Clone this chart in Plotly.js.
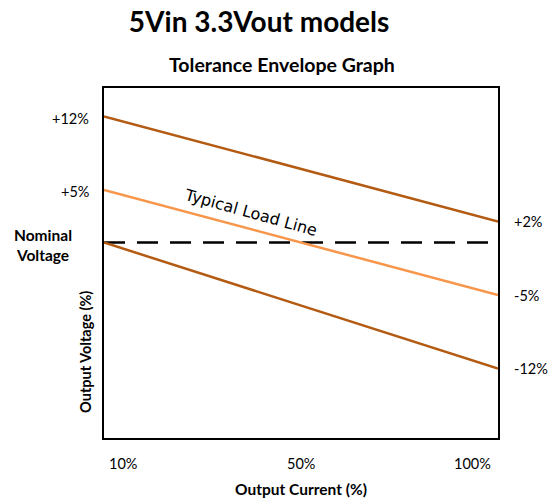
<!DOCTYPE html>
<html>
<head>
<meta charset="utf-8">
<script src="https://cdn.plot.ly/plotly-3.0.1.min.js"></script>
<style>html,body{margin:0;padding:0;background:#fff;}#chart{width:556px;height:499px;}</style>
</head>
<body>
<div id="chart"></div>
<script>
// ---- data ----
const currentLabels = ['10%', '50%', '100%'];
const lineX = ['10%', '100%'];
const upperLimit = [12, 2];
const typicalLoad = [5, -5];
const lowerLimit = [0, -12];
const nominal = [0, 0];
const chartTitle = '5Vin 3.3Vout models';
const chartSubtitle = 'Tolerance Envelope Graph';
const xTitle = 'Output Current (%)';
const yTitle = 'Output Voltage (%)';
const nominalLabel = 'Nominal<br>Voltage';
const loadLineLabel = 'Typical Load Line';

const DARK = '#B35B13';
const LIGHT = '#F7964A';
const FONT = 'Lato, "Open Sans", sans-serif';

function pct(v) { return (v > 0 ? '+' : '') + v + '%'; }

const traces = [
  { x: lineX, y: nominal, mode: 'lines', line: { color: '#000', width: 2.5, dash: '21px,12px' } },
  { x: lineX, y: upperLimit, mode: 'lines', line: { color: DARK, width: 2.5 } },
  { x: lineX, y: typicalLoad, mode: 'lines', line: { color: LIGHT, width: 2.5 } },
  { x: lineX, y: lowerLimit, mode: 'lines', line: { color: DARK, width: 2.5 } }
];

const ann = [];
[upperLimit[0], typicalLoad[0]].forEach(v => ann.push({
  xref: 'paper', yref: 'y', x: 0, y: v, xanchor: 'right', yanchor: 'middle', xshift: -13, yshift: -2,
  text: pct(v), showarrow: false, font: { family: FONT, size: 14.5, color: '#000' }
}));
ann.push({
  xref: 'paper', yref: 'y', x: -0.155, y: lowerLimit[0], xanchor: 'center', yanchor: 'middle', yshift: -2,
  text: '<b>' + nominalLabel + '</b>', showarrow: false, font: { family: FONT, size: 15.5, color: '#000' }
});
[upperLimit[1], typicalLoad[1], lowerLimit[1]].forEach(v => ann.push({
  xref: 'paper', yref: 'y', x: 1, y: v, xanchor: 'left', yanchor: 'middle', xshift: 14,
  text: pct(v), showarrow: false, font: { family: FONT, size: 14.5, color: '#000' }
}));
currentLabels.forEach((t, i) => ann.push({
  xref: 'x', yref: 'paper', x: i, y: 0, yanchor: 'middle', yshift: -25,
  xanchor: i === 0 ? 'left' : (i === currentLabels.length - 1 ? 'right' : 'center'),
  xshift: i === 0 ? 3 : (i === currentLabels.length - 1 ? -5 : 0),
  text: t, showarrow: false, font: { family: FONT, size: 14.5, color: '#000' }
}));
ann.push({
  xref: 'x', yref: 'y', x: 0.746, y: typicalLoad[0] + (typicalLoad[1] - typicalLoad[0]) * 0.373,
  xanchor: 'center', yanchor: 'middle', yshift: 17, textangle: 15.5,
  text: loadLineLabel, showarrow: false, font: { family: 'DejaVu Sans', size: 16, color: '#000' }
});
ann.push({
  xref: 'paper', yref: 'paper', x: 0.5, y: 0, xanchor: 'center', yanchor: 'middle', yshift: -51,
  text: '<b>' + xTitle + '</b>', showarrow: false, font: { family: FONT, size: 15.5, color: '#000' }
});
ann.push({
  xref: 'paper', yref: 'paper', x: -0.0457, y: 0.246, xanchor: 'center', yanchor: 'middle', textangle: -90,
  text: '<b>' + yTitle + '</b>', showarrow: false, font: { family: FONT, size: 14.5, color: '#000' }
});
ann.push({
  xref: 'paper', yref: 'paper', x: 0.452, y: 1.066, xanchor: 'center', yanchor: 'middle',
  text: '<b>' + chartSubtitle + '</b>', showarrow: false, font: { family: FONT, size: 19.5, color: '#000' }
});

const layout = {
  width: 556, height: 499,
  margin: { l: 104, r: 58, t: 88, b: 61 },
  paper_bgcolor: '#fff', plot_bgcolor: '#fff',
  showlegend: false,
  title: { text: '<b>' + chartTitle + '</b>', x: 0.466, xanchor: 'center', y: 1 - 22 / 499, yanchor: 'middle', yref: 'container',
           font: { family: FONT, size: 28, color: '#000' } },
  xaxis: { type: 'category', categoryarray: currentLabels, categoryorder: 'array', range: [0, 2],
           showgrid: false, zeroline: false, showticklabels: false, ticks: '',
           showline: true, mirror: true, linecolor: '#000', linewidth: 2 },
  yaxis: { range: [-18.6, 14.7], showgrid: false, zeroline: false, showticklabels: false, ticks: '',
           showline: true, mirror: true, linecolor: '#000', linewidth: 2 },
  annotations: ann
};

Plotly.newPlot('chart', traces, layout, { displayModeBar: false, staticPlot: true });
</script>
</body>
</html>
